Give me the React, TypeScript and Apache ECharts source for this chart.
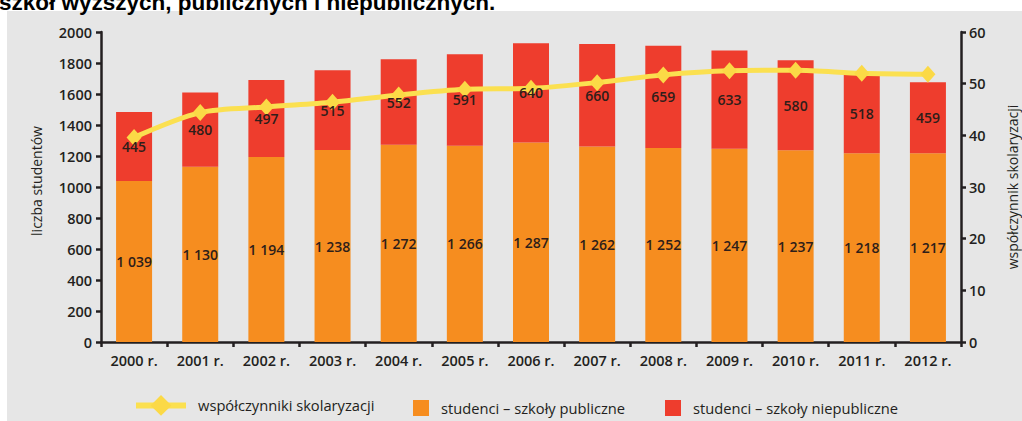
import React, { useEffect, useRef } from "react";
import * as echarts from "echarts";

const years = ["2000 r.", "2001 r.", "2002 r.", "2003 r.", "2004 r.", "2005 r.", "2006 r.", "2007 r.", "2008 r.", "2009 r.", "2010 r.", "2011 r.", "2012 r."];
const publicStudents = [1039, 1130, 1194, 1238, 1272, 1266, 1287, 1262, 1252, 1247, 1237, 1218, 1217];
const privateStudents = [445, 480, 497, 515, 552, 591, 640, 660, 659, 633, 580, 518, 459];
const enrolmentRate = [39.6, 44.4, 45.5, 46.4, 47.8, 48.9, 49.1, 50.2, 51.7, 52.5, 52.6, 52.0, 51.8];

const titleText = "szkół wyższych, publicznych i niepublicznych.";
const leftAxisName = "liczba studentów";
const rightAxisName = "współczynnik skolaryzacji";
const nameRate = "współczynniki skolaryzacji";
const namePublic = "studenci – szkoły publiczne";
const namePrivate = "studenci – szkoły niepubliczne";

const FONT = '"Open Sans", "Noto Sans", sans-serif';
const INK = "#231f20";
const LABEL_INK = "#2e1e1a";

function fmt(v: number): string {
  if (v >= 1000) {
    return `${Math.floor(v / 1000)} ${String(v % 1000).padStart(3, "0")}`;
  }
  return String(v);
}

export default function App() {
  const ref = useRef<HTMLDivElement>(null);

  useEffect(() => {
    if (!ref.current) return;
    const chart = echarts.init(ref.current, undefined, { renderer: "svg" });
    const axisLine = { show: true, lineStyle: { color: INK, width: 2.5 } };
    const axisTick = { show: true, length: 5, lineStyle: { color: INK, width: 2.5 } };
    const tickLabel = { color: INK, fontSize: 14.5, fontWeight: 600, fontFamily: FONT };
    const legendText = { color: INK, fontSize: 14.7, fontFamily: FONT, padding: [0, 0, 0, 7] };
    const barLabel = {
      show: true,
      position: "inside",
      color: LABEL_INK,
      fontSize: 14,
      fontWeight: 600,
      fontFamily: FONT,
      formatter: (p: any) => fmt(p.value),
    };

    chart.setOption({
      animation: false,
      backgroundColor: "#ffffff",
      graphic: [
        {
          type: "rect",
          z: -10,
          silent: true,
          shape: { x: 7, y: 11, width: 1015, height: 410 },
          style: { fill: "#e6e6e6" },
        },
        {
          type: "text",
          x: -1,
          y: 2.5,
          style: {
            text: titleText,
            fill: "#000000",
            font: 'bold 22.5px "Liberation Sans", Arial, sans-serif',
            verticalAlign: "middle",
          },
        },
      ],
      grid: { left: 101, right: 61, top: 32, bottom: 79, outerBoundsMode: "none" },
      legend: [
        {
          left: 133,
          top: 395,
          padding: 0,
          itemWidth: 50,
          itemHeight: 26,
          data: [nameRate],
          textStyle: legendText,
          lineStyle: { width: 6 },
          selectedMode: false,
        },
        {
          left: 413,
          top: 400,
          padding: 0,
          itemWidth: 16,
          itemHeight: 16,
          icon: "rect",
          data: [namePublic],
          textStyle: legendText,
          selectedMode: false,
        },
        {
          left: 665,
          top: 400,
          padding: 0,
          itemWidth: 16,
          itemHeight: 16,
          icon: "rect",
          data: [namePrivate],
          textStyle: legendText,
          selectedMode: false,
        },
      ],
      xAxis: {
        type: "category",
        data: years,
        boundaryGap: true,
        axisLine,
        axisTick: { ...axisTick, alignWithLabel: false },
        axisLabel: { ...tickLabel, margin: 11, interval: 0 },
        splitLine: { show: false },
      },
      yAxis: [
        {
          type: "value",
          min: 0,
          max: 2000,
          interval: 200,
          position: "left",
          axisLine,
          axisTick,
          axisLabel: { ...tickLabel, margin: 9, formatter: (v: number) => String(v) },
          splitLine: { show: false },
          name: leftAxisName,
          nameLocation: "middle",
          nameGap: 58,
          nameRotate: 90,
          nameTextStyle: { color: INK, fontSize: 14, fontFamily: FONT, padding: [0, 0, 0, 12] },
        },
        {
          type: "value",
          min: 0,
          max: 60,
          interval: 10,
          position: "right",
          axisLine,
          axisTick,
          axisLabel: { ...tickLabel, margin: 8, formatter: (v: number) => String(v) },
          splitLine: { show: false },
          name: rightAxisName,
          nameLocation: "middle",
          nameGap: 44,
          nameRotate: 90,
          nameTextStyle: { color: INK, fontSize: 14, fontFamily: FONT },
        },
      ],
      series: [
        {
          name: namePublic,
          type: "bar",
          stack: "students",
          barWidth: 36,
          barGap: "-100%",
          data: publicStudents,
          itemStyle: { color: "#f68d1f" },
          z: 2,
        },
        {
          name: namePrivate,
          type: "bar",
          stack: "students",
          barWidth: 36,
          barGap: "-100%",
          data: privateStudents,
          itemStyle: { color: "#ee3d2d" },
          z: 2,
        },
        {
          name: nameRate,
          type: "line",
          yAxisIndex: 1,
          data: enrolmentRate,
          smooth: 0.3,
          symbol: "diamond",
          symbolSize: [15, 17],
          z: 5,
          lineStyle: { color: "#fbe050", width: 5 },
          itemStyle: { color: "#fbd946" },
        },
        {
          name: "labels-public",
          type: "bar",
          stack: "labels",
          barWidth: 36,
          barGap: "-100%",
          data: publicStudents,
          itemStyle: { color: "rgba(0,0,0,0)" },
          silent: true,
          z: 10,
          label: barLabel,
        },
        {
          name: "labels-private",
          type: "bar",
          stack: "labels",
          barWidth: 36,
          barGap: "-100%",
          data: privateStudents,
          itemStyle: { color: "rgba(0,0,0,0)" },
          silent: true,
          z: 10,
          label: barLabel,
        },
      ],
    });
    return () => chart.dispose();
  }, []);

  return (
    <div
      ref={ref}
      style={{ position: "fixed", left: 0, top: 0, width: 1022, height: 421 }}
    />
  );
}
